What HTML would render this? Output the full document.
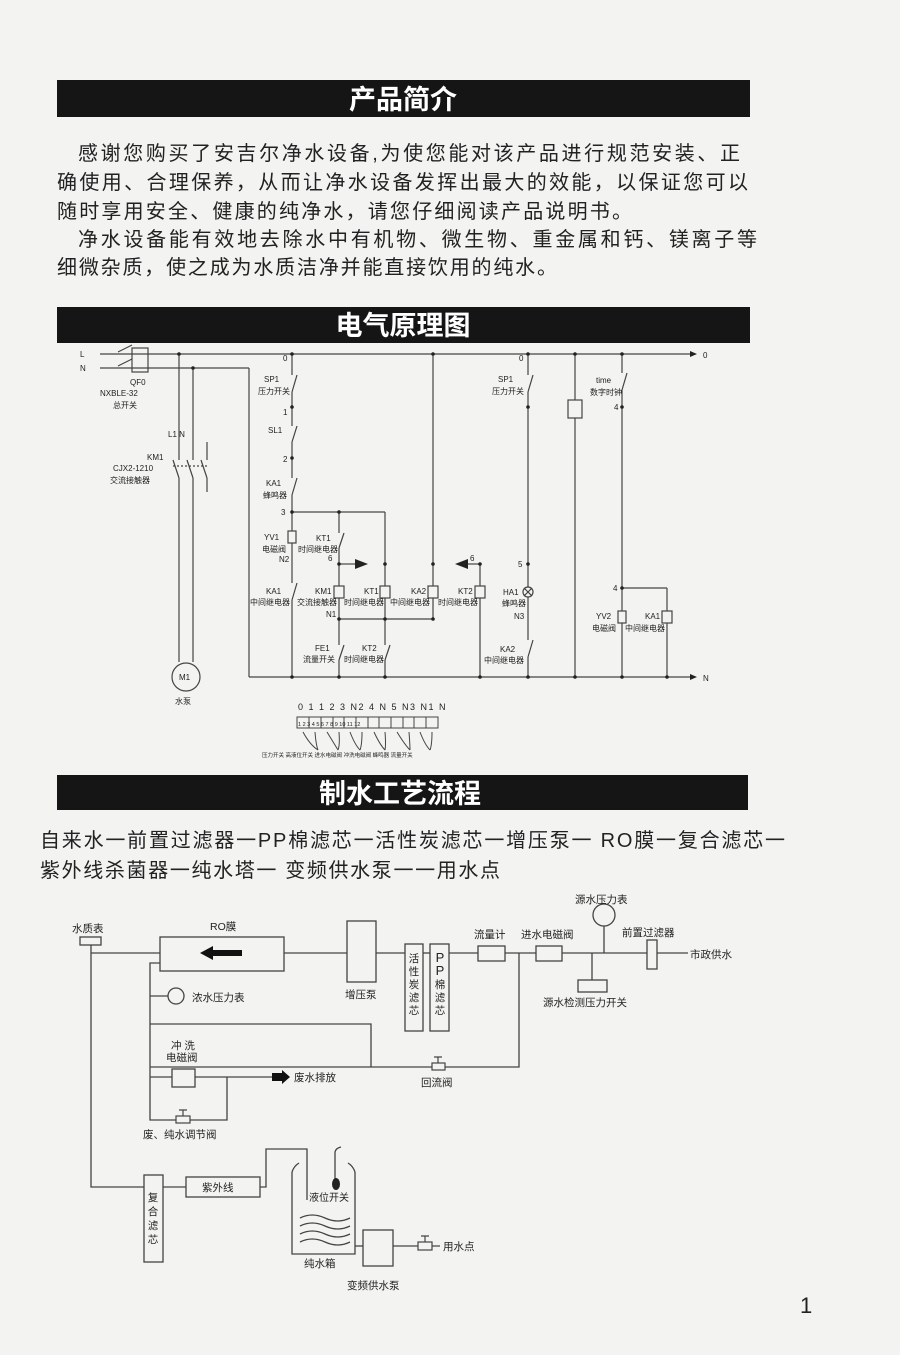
<!DOCTYPE html>
<html><head><meta charset="utf-8"><style>
html,body{margin:0;padding:0;background:#f3f3f1;}
svg{display:block;}
text{font-family:"Liberation Sans","Noto Sans CJK SC",sans-serif;fill:#222;}
</style></head><body>
<svg width="900" height="1355" viewBox="0 0 900 1355" xmlns="http://www.w3.org/2000/svg">
<rect width="900" height="1355" fill="#f3f3f1"/>
<!-- title bars -->
<rect x="57" y="80" width="693" height="37" fill="#151515"/>
<text x="403" y="109" font-size="27" font-weight="bold" text-anchor="middle" style="fill:#fff">产品简介</text>
<rect x="57" y="307" width="693" height="36" fill="#151515"/>
<text x="403" y="335" font-size="27" font-weight="bold" text-anchor="middle" style="fill:#fff">电气原理图</text>
<rect x="57" y="775" width="691" height="35" fill="#151515"/>
<text x="400" y="803" font-size="27" font-weight="bold" text-anchor="middle" style="fill:#fff">制水工艺流程</text>
<!-- paragraphs -->
<g font-size="20">
<text x="78" y="160" textLength="662" lengthAdjust="spacing">感谢您购买了安吉尔净水设备,为使您能对该产品进行规范安装、正</text>
<text x="57" y="189" textLength="691" lengthAdjust="spacing">确使用、合理保养，从而让净水设备发挥出最大的效能，以保证您可以</text>
<text x="57" y="218" textLength="575" lengthAdjust="spacing">随时享用安全、健康的纯净水，请您仔细阅读产品说明书。</text>
<text x="78" y="246" textLength="679" lengthAdjust="spacing">净水设备能有效地去除水中有机物、微生物、重金属和钙、镁离子等</text>
<text x="57" y="274" textLength="500" lengthAdjust="spacing">细微杂质，使之成为水质洁净并能直接饮用的纯水。</text>
</g>
<g font-size="20">
<text x="40" y="847" textLength="745" lengthAdjust="spacing">自来水一前置过滤器一PP棉滤芯一活性炭滤芯一增压泵一 RO膜一复合滤芯一</text>
<text x="40" y="877" textLength="460" lengthAdjust="spacing">紫外线杀菌器一纯水塔一 变频供水泵一一用水点</text>
</g>

<!-- electrical diagram -->
<g stroke="#444" stroke-width="1.2" fill="none">
<line x1="100" y1="354" x2="690" y2="354"/>
<line x1="100" y1="368" x2="249" y2="368"/>
<rect x="132" y="348" width="16" height="24"/>
<line x1="179" y1="354" x2="179" y2="662"/>
<line x1="193" y1="368" x2="193" y2="662"/>
<line x1="207" y1="442" x2="207" y2="492"/>
<circle cx="186" cy="677" r="14"/>
<line x1="249" y1="368" x2="249" y2="677"/>
<line x1="249" y1="677" x2="690" y2="677"/>
<line x1="292" y1="354" x2="292" y2="677"/>
<line x1="292" y1="512" x2="385" y2="512"/>
<line x1="339" y1="512" x2="339" y2="677"/>
<line x1="385" y1="512" x2="385" y2="619"/>
<line x1="339" y1="619" x2="433" y2="619"/>
<line x1="433" y1="354" x2="433" y2="619"/>
<line x1="339" y1="564" x2="355" y2="564"/>
<line x1="480" y1="564" x2="480" y2="677"/>
<line x1="468" y1="564" x2="480" y2="564"/>
<line x1="385" y1="619" x2="385" y2="677"/>
<line x1="528" y1="354" x2="528" y2="677"/>
<line x1="575" y1="354" x2="575" y2="677"/>
<line x1="622" y1="354" x2="622" y2="677"/>
<line x1="622" y1="588" x2="667" y2="588"/>
<line x1="667" y1="588" x2="667" y2="677"/>
<rect x="568" y="400" width="14" height="18" fill="#f3f3f1"/>
<circle cx="528" cy="592" r="5" fill="#f3f3f1"/>
<line x1="524" y1="588" x2="532" y2="596"/><line x1="532" y1="588" x2="524" y2="596"/>
</g>
<!-- coils -->
<g stroke="#444" stroke-width="1.2" fill="#f3f3f1">
<rect x="288" y="531" width="8" height="12"/>
<rect x="334" y="586" width="10" height="12"/>
<rect x="380" y="586" width="10" height="12"/>
<rect x="428" y="586" width="10" height="12"/>
<rect x="475" y="586" width="10" height="12"/>
<rect x="618" y="611" width="8" height="12"/>
<rect x="662" y="611" width="10" height="12"/>
</g>
<!-- switch gaps -->
<g stroke="#f3f3f1" stroke-width="3">
<line x1="292" y1="375" x2="292" y2="392"/><line x1="292" y1="426" x2="292" y2="442"/>
<line x1="292" y1="478" x2="292" y2="495"/><line x1="292" y1="583" x2="292" y2="600"/>
<line x1="339" y1="533" x2="339" y2="548"/><line x1="339" y1="645" x2="339" y2="660"/>
<line x1="385" y1="645" x2="385" y2="660"/><line x1="528" y1="375" x2="528" y2="392"/>
<line x1="528" y1="640" x2="528" y2="657"/><line x1="622" y1="373" x2="622" y2="390"/>
<line x1="179" y1="460" x2="179" y2="478"/><line x1="193" y1="460" x2="193" y2="478"/><line x1="207" y1="460" x2="207" y2="478"/>
</g>
<g stroke="#444" stroke-width="1.2">
<line x1="292" y1="392" x2="297" y2="375"/><line x1="292" y1="442" x2="297" y2="426"/>
<line x1="292" y1="495" x2="297" y2="478"/><line x1="292" y1="600" x2="297" y2="583"/>
<line x1="339" y1="548" x2="344" y2="533"/><line x1="339" y1="660" x2="344" y2="645"/>
<line x1="385" y1="660" x2="390" y2="645"/><line x1="528" y1="392" x2="533" y2="375"/>
<line x1="528" y1="657" x2="533" y2="640"/><line x1="622" y1="390" x2="627" y2="373"/>
<line x1="179" y1="478" x2="173" y2="460"/><line x1="193" y1="478" x2="187" y2="460"/><line x1="207" y1="478" x2="201" y2="460"/>
<line x1="173" y1="466" x2="207" y2="466" stroke-dasharray="2 2"/>
<line x1="118" y1="352" x2="132" y2="345"/><line x1="118" y1="366" x2="132" y2="359"/>
</g>
<polygon points="355,559 368,564 355,569" fill="#222"/>
<polygon points="468,559 455,564 468,569" fill="#222"/>
<polygon points="690,351 697,354 690,357" fill="#222"/>
<polygon points="690,674 697,677 690,680" fill="#222"/>
<g fill="#222">
<circle cx="179" cy="354" r="1.8"/><circle cx="193" cy="368" r="1.8"/><circle cx="292" cy="354" r="1.8"/><circle cx="433" cy="354" r="1.8"/>
<circle cx="528" cy="354" r="1.8"/><circle cx="575" cy="354" r="1.8"/><circle cx="622" cy="354" r="1.8"/>
<circle cx="292" cy="407" r="1.8"/><circle cx="292" cy="458" r="1.8"/><circle cx="292" cy="512" r="1.8"/><circle cx="339" cy="512" r="1.8"/>
<circle cx="339" cy="564" r="1.8"/><circle cx="385" cy="564" r="1.8"/><circle cx="433" cy="564" r="1.8"/><circle cx="480" cy="564" r="1.8"/>
<circle cx="339" cy="619" r="1.8"/><circle cx="385" cy="619" r="1.8"/><circle cx="433" cy="619" r="1.8"/>
<circle cx="528" cy="407" r="1.8"/><circle cx="528" cy="564" r="1.8"/><circle cx="622" cy="407" r="1.8"/><circle cx="622" cy="588" r="1.8"/>
<circle cx="292" cy="677" r="1.8"/><circle cx="339" cy="677" r="1.8"/><circle cx="385" cy="677" r="1.8"/><circle cx="480" cy="677" r="1.8"/><circle cx="528" cy="677" r="1.8"/><circle cx="575" cy="677" r="1.8"/><circle cx="622" cy="677" r="1.8"/><circle cx="667" cy="677" r="1.8"/>
</g>
<g font-size="8">
<text x="80" y="357">L</text><text x="80" y="371">N</text>
<text x="130" y="385">QF0</text><text x="100" y="396">NXBLE-32</text><text x="113" y="408">总开关</text>
<text x="168" y="437">L1  N</text>
<text x="147" y="460">KM1</text><text x="113" y="471">CJX2-1210</text><text x="110" y="483">交流接触器</text>
<text x="179" y="680">M1</text><text x="175" y="704">水泵</text>
<text x="283" y="361">0</text><text x="264" y="382">SP1</text><text x="258" y="394">压力开关</text>
<text x="283" y="415">1</text><text x="268" y="433">SL1</text><text x="283" y="462">2</text>
<text x="266" y="486">KA1</text><text x="263" y="498">蜂鸣器</text><text x="281" y="515">3</text>
<text x="264" y="540">YV1</text><text x="262" y="552">电磁阀</text><text x="279" y="562">N2</text>
<text x="316" y="541">KT1</text><text x="298" y="552">时间继电器</text><text x="328" y="561">6</text>
<text x="266" y="594">KA1</text><text x="250" y="605">中间继电器</text>
<text x="315" y="594">KM1</text><text x="297" y="605">交流接触器</text>
<text x="364" y="594">KT1</text><text x="344" y="605">时间继电器</text>
<text x="411" y="594">KA2</text><text x="390" y="605">中间继电器</text>
<text x="458" y="594">KT2</text><text x="438" y="605">时间继电器</text>
<text x="326" y="617">N1</text>
<text x="315" y="651">FE1</text><text x="303" y="662">流量开关</text>
<text x="362" y="651">KT2</text><text x="344" y="662">时间继电器</text>
<text x="470" y="561">6</text>
<text x="519" y="361">0</text><text x="498" y="382">SP1</text><text x="492" y="394">压力开关</text>
<text x="518" y="567">5</text><text x="503" y="595">HA1</text><text x="502" y="606">蜂鸣器</text><text x="514" y="619">N3</text>
<text x="500" y="652">KA2</text><text x="484" y="663">中间继电器</text>
<text x="596" y="383">time</text><text x="590" y="395">数字时钟</text><text x="614" y="410">4</text><text x="613" y="591">4</text>
<text x="596" y="619">YV2</text><text x="592" y="631">电磁阀</text>
<text x="645" y="619">KA1</text><text x="625" y="631">中间继电器</text>
<text x="703" y="358">0</text><text x="703" y="681">N</text>
</g>
<!-- terminal block -->
<g font-size="9">
<text x="298" y="710" letter-spacing="1.5">0 1 1 2 3 N2 4 N 5 N3 N1 N</text>
</g>
<g stroke="#444" stroke-width="1" fill="none">
<rect x="297" y="717" width="141" height="11"/>
<path d="M309 717V728M321 717V728M333 717V728M344 717V728M356 717V728M368 717V728M379 717V728M391 717V728M403 717V728M414 717V728M426 717V728"/>
<path d="M303 732 Q310 745 318 750 M315 732 Q316 745 318 750 M327 732 Q335 745 338 750 M339 732 Q340 745 338 750 M350 732 Q355 745 360 750 M362 732 Q362 745 360 750 M374 732 Q380 745 385 750 M385 732 Q386 745 385 750 M397 732 Q405 745 410 750 M409 732 Q410 745 410 750 M420 732 Q425 745 430 750 M432 732 Q432 745 430 750"/>
</g>
<g font-size="5.5">
<text x="298" y="726">1  2  3  4  5  6  7  8  9 10 11 12</text>
<text x="262" y="757">压力开关  高液位开关  进水电磁阀  冲洗电磁阀  蜂鸣器  流量开关</text>
</g>

<!-- flow diagram -->
<g stroke="#444" stroke-width="1.3" fill="none">
<rect x="80" y="937" width="21" height="8"/>
<polyline points="91,945 91,1187 144,1187"/>
<line x1="91" y1="953" x2="160" y2="953"/>
<rect x="160" y="937" width="124" height="34"/>
<line x1="284" y1="953" x2="347" y2="953"/>
<rect x="347" y="921" width="29" height="61"/>
<line x1="376" y1="953" x2="405" y2="953"/>
<rect x="405" y="944" width="18" height="87"/>
<line x1="423" y1="953" x2="430" y2="953"/>
<rect x="430" y="944" width="19" height="87"/>
<line x1="449" y1="953" x2="478" y2="953"/>
<rect x="478" y="946" width="27" height="15"/>
<line x1="505" y1="953" x2="536" y2="953"/>
<rect x="536" y="946" width="26" height="15"/>
<line x1="562" y1="953" x2="647" y2="953"/>
<rect x="647" y="940" width="10" height="29"/>
<line x1="657" y1="953" x2="688" y2="953"/>
<circle cx="604" cy="915" r="11"/>
<line x1="604" y1="926" x2="604" y2="953"/>
<line x1="592" y1="953" x2="592" y2="980"/>
<rect x="578" y="980" width="29" height="12"/>
<polyline points="519,953 519,1067 150,1067" />
<polyline points="371,1067 371,1024 150,1024"/>
<polyline points="160,963 150,963 150,1120 227,1120 227,1077"/>
<circle cx="176" cy="996" r="8"/>
<line x1="150" y1="996" x2="168" y2="996"/>
<rect x="172" y="1069" width="23" height="18"/>
<line x1="150" y1="1077" x2="172" y2="1077"/>
<line x1="195" y1="1077" x2="272" y2="1077"/>
<rect x="144" y="1175" width="19" height="87"/>
<line x1="163" y1="1187" x2="186" y2="1187"/>
<rect x="186" y="1177" width="74" height="20"/>
<polyline points="260,1187 266,1187 266,1149 307,1149 307,1200"/>
<polyline points="292,1172 292,1254 355,1254 355,1172"/>
<path d="M292 1172 Q294 1166 299 1163 M355 1172 Q353 1166 348 1163"/>
<path d="M335 1180 V1152 Q336 1148 341 1147"/>
<path d="M300 1218 q12 -6 25 0 t25 0 M300 1226 q12 -6 25 0 t25 0 M300 1234 q12 -6 25 0 t25 0 M300 1242 q12 -6 25 0 t25 0"/>
<line x1="355" y1="1246" x2="363" y2="1246"/>
<rect x="363" y="1230" width="30" height="36"/>
<line x1="393" y1="1246" x2="440" y2="1246"/>
</g>
<!-- valves -->
<g stroke="#444" stroke-width="1.2" fill="#f3f3f1">
<rect x="176" y="1116" width="14" height="7"/><path d="M183 1116V1110M179 1110H187" fill="none"/>
<rect x="432" y="1063" width="13" height="7"/><path d="M438 1063V1057M434 1057H442" fill="none"/>
<rect x="418" y="1242" width="14" height="8"/><path d="M425 1242V1236M421 1236H429" fill="none"/>
</g>
<ellipse cx="336" cy="1184" rx="4" ry="6" fill="#222"/>
<polygon points="200,953 213,946 213,950 242,950 242,956 213,956 213,960" fill="#111"/>
<polygon points="272,1073 282,1073 282,1070 290,1077 282,1084 282,1081 272,1081" fill="#111"/>
<g font-size="10.5">
<text x="72" y="932">水质表</text>
<text x="210" y="930">RO膜</text>
<text x="345" y="998">增压泵</text>
<text x="192" y="1001">浓水压力表</text>
<text x="171" y="1049">冲 洗</text><text x="166" y="1061">电磁阀</text>
<text x="294" y="1081">废水排放</text>
<text x="143" y="1138">废、纯水调节阀</text>
<text x="421" y="1086">回流阀</text>
<text x="474" y="938">流量计</text>
<text x="521" y="938">进水电磁阀</text>
<text x="575" y="903">源水压力表</text>
<text x="622" y="936">前置过滤器</text>
<text x="690" y="958">市政供水</text>
<text x="543" y="1006">源水检测压力开关</text>
<text x="202" y="1191">紫外线</text>
<text x="309" y="1201" font-size="10">液位开关</text>
<text x="304" y="1267">纯水箱</text>
<text x="347" y="1289">变频供水泵</text>
<text x="443" y="1250">用水点</text>
</g>
<g font-size="10.5" text-anchor="middle">
<text x="414" y="962">活</text><text x="414" y="975">性</text><text x="414" y="988">炭</text><text x="414" y="1001">滤</text><text x="414" y="1014">芯</text>
<text x="440" y="962" font-size="13">P</text><text x="440" y="975" font-size="13">P</text><text x="440" y="988">棉</text><text x="440" y="1001">滤</text><text x="440" y="1014">芯</text>
<text x="153" y="1201">复</text><text x="153" y="1215">合</text><text x="153" y="1229">滤</text><text x="153" y="1243">芯</text>
</g>
<text x="800" y="1313" font-size="22">1</text>
</svg>
</body></html>
